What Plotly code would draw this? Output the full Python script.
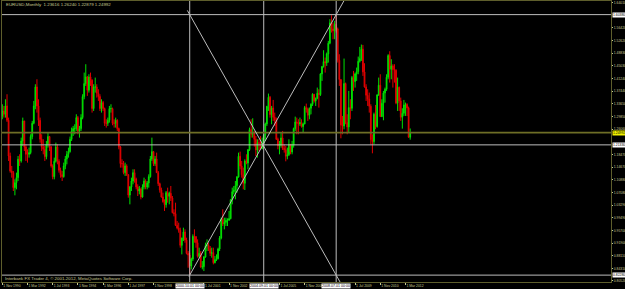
import math
import pandas as pd
import plotly.graph_objects as go

# ---------------- data (EURUSD, monthly bars from Nov 1990) ----------------
symbol = "EURUSD,Monthly"
first_month = "1990-11"
first_open = 1.3000

close = [
    1.3150, 1.3050,
    1.3300, 1.2870, 1.1800, 1.1350, 1.1300, 1.0850, 1.1000, 1.1150, 1.1700, 1.1650, 1.2250, 1.2850,
    1.2070, 1.1850, 1.1850, 1.1900, 1.2380, 1.2780, 1.3300, 1.3870, 1.3300, 1.2870, 1.2300, 1.2070,
    1.2000, 1.1780, 1.2150, 1.2380, 1.2070, 1.1500, 1.1180, 1.1640, 1.2070, 1.1640, 1.1370, 1.1240,
    1.1180, 1.1500, 1.1710, 1.1850, 1.1930, 1.2300, 1.2540, 1.2620, 1.2620, 1.2950, 1.2540, 1.2620,
    1.2950, 1.3580, 1.3970, 1.4170, 1.3770, 1.4170, 1.4070, 1.3220, 1.3870, 1.3870, 1.3680, 1.3580,
    1.3220, 1.3400, 1.3220, 1.2780, 1.2780, 1.2870, 1.3220, 1.3220, 1.2780, 1.2780, 1.2870, 1.2620,
    1.2070, 1.1570, 1.1570, 1.1300, 1.1500, 1.1240, 1.0630, 1.0870, 1.1050, 1.1300, 1.1110, 1.0870,
    1.0750, 1.0810, 1.0570, 1.0870, 1.1050, 1.0870, 1.0990, 1.1180, 1.1710, 1.1930, 1.1570, 1.1710,
    1.1300, 1.0970, 1.0780, 1.0570, 1.0430, 1.0340, 1.0700, 1.0590, 1.0680, 1.0540, 1.0100, 1.0070,
    0.9720, 0.9640, 0.9570, 0.9120, 0.9340, 0.9520, 0.9280, 0.8880, 0.8830, 0.8500, 0.8710, 0.9390,
    0.9380, 0.9200, 0.8790, 0.8880, 0.8470, 0.8480, 0.8770, 0.9110, 0.9120, 0.9020, 0.8880, 0.8900,
    0.8600, 0.8690, 0.8720, 0.9010, 0.9340, 0.9900, 0.9760, 0.9810, 0.9870, 0.9880, 0.9920, 1.0490,
    1.0730, 1.0780, 1.0910, 1.1170, 1.1790, 1.1500, 1.1240, 1.0980, 1.1650, 1.1590, 1.1990, 1.2590,
    1.2450, 1.2480, 1.2300, 1.1980, 1.2200, 1.2180, 1.2020, 1.2180, 1.2420, 1.2760, 1.3290, 1.3560,
    1.3040, 1.3240, 1.2960, 1.2870, 1.2300, 1.2100, 1.2120, 1.2340, 1.2030, 1.1990, 1.1790, 1.1840,
    1.2150, 1.1920, 1.2120, 1.2620, 1.2820, 1.2790, 1.2760, 1.2800, 1.2680, 1.2760, 1.3250, 1.3200,
    1.3020, 1.3230, 1.3350, 1.3650, 1.3450, 1.3530, 1.3680, 1.3640, 1.4260, 1.4480, 1.4630, 1.4590,
    1.4860, 1.5180, 1.5790, 1.5610, 1.5550, 1.5750, 1.5610, 1.4670, 1.4090, 1.2730, 1.2700, 1.3970,
    1.2800, 1.2670, 1.3250, 1.3230, 1.4150, 1.4030, 1.4260, 1.4330, 1.4640, 1.4720, 1.5000, 1.4320,
    1.3870, 1.3620, 1.3510, 1.3290, 1.2290, 1.2230, 1.3050, 1.2680, 1.3630, 1.3920, 1.2980, 1.3380,
    1.3690, 1.3800, 1.4160, 1.4810, 1.4400, 1.4500, 1.4390, 1.4370, 1.3390, 1.3860, 1.3450, 1.2960,
    1.3080, 1.3330, 1.3340, 1.3240, 1.23616, 1.24992,
]

high = [
    1.3350, 1.3300,
    1.3500, 1.3650, 1.2950, 1.1900, 1.1500, 1.1350, 1.1100, 1.1300, 1.1800, 1.1850, 1.2350, 1.2950,
    1.2850, 1.2150, 1.2000, 1.2050, 1.2450, 1.2850, 1.3450, 1.3950, 1.4100, 1.3500, 1.2950, 1.2450,
    1.2300, 1.2100, 1.2250, 1.2500, 1.2400, 1.2100, 1.1550, 1.1750, 1.2200, 1.2150, 1.1700, 1.1450,
    1.1350, 1.1600, 1.1800, 1.1950, 1.2050, 1.2380, 1.2650, 1.2700, 1.2750, 1.3050, 1.3000, 1.2700,
    1.3050, 1.3650, 1.4300, 1.4550, 1.4200, 1.4250, 1.4300, 1.4100, 1.3950, 1.4150, 1.3950, 1.3800,
    1.3650, 1.3500, 1.3450, 1.3250, 1.2900, 1.2950, 1.3300, 1.3350, 1.3250, 1.2900, 1.2950, 1.2900,
    1.2650, 1.2100, 1.1700, 1.1650, 1.1600, 1.1550, 1.1250, 1.0900, 1.1150, 1.1400, 1.1400, 1.1150,
    1.0950, 1.0900, 1.0850, 1.0950, 1.1150, 1.1100, 1.1050, 1.1250, 1.1800, 1.2350, 1.1950, 1.1800,
    1.1900, 1.1350, 1.1000, 1.0850, 1.0700, 1.0500, 1.0750, 1.0850, 1.0730, 1.0900, 1.0600, 1.0200,
    1.0400, 0.9850, 0.9800, 0.9650, 0.9350, 0.9650, 0.9600, 0.9350, 0.8950, 0.8900, 0.8750, 0.9450,
    0.9600, 0.9400, 0.9300, 0.9050, 0.8950, 0.8650, 0.8800, 0.9200, 0.9300, 0.9200, 0.9100, 0.9050,
    0.9050, 0.8800, 0.8850, 0.9050, 0.9400, 0.9950, 1.0200, 0.9950, 0.9950, 0.9930, 1.0150, 1.0500,
    1.0850, 1.0900, 1.1050, 1.1200, 1.1900, 1.1930, 1.1650, 1.1450, 1.1700, 1.1850, 1.2000, 1.2650,
    1.2900, 1.2930, 1.2550, 1.2400, 1.2300, 1.2300, 1.2400, 1.2350, 1.2450, 1.2800, 1.3300, 1.3670,
    1.3600, 1.3300, 1.3480, 1.3100, 1.2950, 1.2350, 1.2250, 1.2500, 1.2550, 1.2150, 1.2100, 1.2050,
    1.2300, 1.2150, 1.2250, 1.2650, 1.2980, 1.2950, 1.2900, 1.2950, 1.2900, 1.2800, 1.3300, 1.3370,
    1.3250, 1.3250, 1.3380, 1.3680, 1.3650, 1.3550, 1.3850, 1.3800, 1.4280, 1.4500, 1.4970, 1.4750,
    1.4900, 1.5250, 1.5900, 1.6020, 1.5800, 1.5850, 1.6038, 1.5650, 1.4850, 1.4100, 1.3000, 1.4720,
    1.4000, 1.3050, 1.3750, 1.3500, 1.4200, 1.4350, 1.4300, 1.4450, 1.4780, 1.5070, 1.5140, 1.5130,
    1.4580, 1.3950, 1.3800, 1.3700, 1.3350, 1.2450, 1.3100, 1.3330, 1.3650, 1.4150, 1.4250, 1.3500,
    1.3750, 1.3850, 1.4250, 1.4850, 1.4940, 1.4700, 1.4550, 1.4550, 1.4400, 1.4150, 1.3880, 1.3550,
    1.3230, 1.3480, 1.3400, 1.3380, 1.3280, 1.26240,
]

low = [
    1.2900, 1.2950,
    1.2950, 1.2820, 1.1650, 1.1300, 1.1150, 1.0750, 1.0620, 1.0800, 1.1050, 1.1500, 1.1600, 1.2100,
    1.1950, 1.1650, 1.1600, 1.1750, 1.1850, 1.2300, 1.2750, 1.3200, 1.3100, 1.2700, 1.2200, 1.1950,
    1.1850, 1.1650, 1.1700, 1.2050, 1.1950, 1.1450, 1.1100, 1.1100, 1.1600, 1.1550, 1.1300, 1.1150,
    1.1050, 1.1150, 1.1400, 1.1550, 1.1750, 1.1900, 1.2250, 1.2400, 1.2450, 1.2550, 1.2450, 1.2350,
    1.2550, 1.2900, 1.3500, 1.3900, 1.3600, 1.3700, 1.3900, 1.3100, 1.3150, 1.3700, 1.3550, 1.3450,
    1.3150, 1.3100, 1.3150, 1.2700, 1.2650, 1.2700, 1.2800, 1.3100, 1.2720, 1.2650, 1.2650, 1.2550,
    1.2000, 1.1450, 1.1450, 1.1250, 1.1200, 1.1200, 1.0550, 1.0350, 1.0750, 1.0950, 1.1000, 1.0800,
    1.0600, 1.0650, 1.0500, 1.0550, 1.0800, 1.0800, 1.0800, 1.0850, 1.1150, 1.1650, 1.1500, 1.1500,
    1.1300, 1.0900, 1.0700, 1.0550, 1.0400, 1.0150, 1.0250, 1.0400, 1.0350, 1.0450, 1.0080, 0.9990,
    0.9700, 0.9600, 0.9500, 0.9050, 0.8850, 0.9250, 0.9200, 0.8850, 0.8450, 0.8228, 0.8400, 0.8650,
    0.9200, 0.9050, 0.8750, 0.8750, 0.8450, 0.8400, 0.8350, 0.8750, 0.8950, 0.8950, 0.8800, 0.8750,
    0.8550, 0.8580, 0.8650, 0.8700, 0.8950, 0.9300, 0.9700, 0.9600, 0.9700, 0.9700, 0.9850, 0.9900,
    1.0350, 1.0650, 1.0500, 1.0700, 1.1150, 1.1400, 1.1150, 1.0800, 1.0780, 1.1550, 1.1400, 1.1950,
    1.2350, 1.2350, 1.2080, 1.1800, 1.1750, 1.1950, 1.2000, 1.2000, 1.2050, 1.2250, 1.2700, 1.3150,
    1.2950, 1.2750, 1.2850, 1.2700, 1.2280, 1.2000, 1.1850, 1.2050, 1.1980, 1.1900, 1.1640, 1.1700,
    1.1800, 1.1850, 1.1850, 1.2050, 1.2550, 1.2450, 1.2450, 1.2700, 1.2650, 1.2500, 1.2750, 1.3100,
    1.2850, 1.2900, 1.3050, 1.3300, 1.3400, 1.3300, 1.3500, 1.3250, 1.3600, 1.4050, 1.4450, 1.4300,
    1.4500, 1.4600, 1.5150, 1.5500, 1.5300, 1.5300, 1.5500, 1.4600, 1.3900, 1.2330, 1.2450, 1.2600,
    1.2750, 1.2450, 1.2500, 1.2900, 1.3150, 1.3750, 1.3850, 1.4050, 1.4250, 1.4600, 1.4650, 1.4200,
    1.3850, 1.3450, 1.3300, 1.3100, 1.2150, 1.1880, 1.2150, 1.2600, 1.2650, 1.3600, 1.2970, 1.3000,
    1.2870, 1.3400, 1.3750, 1.4100, 1.4000, 1.4100, 1.3850, 1.4000, 1.3350, 1.3150, 1.3150, 1.2850,
    1.2620, 1.3000, 1.3000, 1.3000, 1.2350, 1.22879,
]

# monthly FX bars open where the previous one closed
open_ = [first_open] + close[:-1]

# price-scale labels that the terminal shows (those under highlighted boxes are not drawn)
price_tick_vals = [0.8052, 0.8431, 0.8811, 0.9190, 0.9570, 0.9949, 1.0329, 1.0708,
                   1.1088, 1.1467, 1.1847, 1.2606, 1.2985, 1.3365, 1.3744,
                   1.4124, 1.4503, 1.4883, 1.5262, 1.5642, 1.6401]
date_tick_text = ["1 Nov 1990", "1 Mar 1992", "1 Jul 1993", "1 Nov 1994", "1 Mar 1996",
                  "1 Jul 1997", "1 Nov 1998", "1 Jul 2001", "1 Nov 2002",
                  "1 Jul 2005", "1 Nov 2006", "1 Jul 2009",
                  "1 Nov 2010", "1 Mar 2012"]
copyright_text = "Interbank FX Trader 4, \u00a9 2001-2012, MetaQuotes Software Corp."

# ---------------- derived ----------------
months = pd.period_range(first_month, periods=len(close), freq="M")
idx = list(range(len(close)))
month_pos = {m.strftime("%b %Y"): i for i, m in enumerate(months)}
date_tick_idx = [month_pos[t.split(" ", 1)[1]] for t in date_tick_text]

hi = max(high)
lo = min(low)
hi_i = high.index(hi)
lo_i = low.index(lo)
mid = (hi + lo) / 2
mid_i = math.ceil((hi_i + lo_i) / 2)
bid = close[-1]

def mt_date(i):
    return months[i].strftime("%Y.%m.01 00:00")

FG = "#c8c890"
FRAME = "#5e5e2c"
GREY = "#bdbdbd"
FONT = "Liberation Sans"
AX_FS = 3.4
BOX_FS = 3.6
TXT_FS = 4.4

XR = [-0.19, 386.5]
YR = [0.80216, 1.64460]

fig = go.Figure()
fig.add_trace(go.Candlestick(
    x=idx, open=open_, high=high, low=low, close=close,
    increasing=dict(line=dict(color="#00e000", width=1), fillcolor="#00e000"),
    decreasing=dict(line=dict(color="#e00000", width=1), fillcolor="#e00000"),
    whiskerwidth=0, hoverinfo="skip", showlegend=False,
))

shapes = []
for v in (hi, mid, lo):
    shapes.append(dict(type="line", xref="paper", yref="y", x0=0, x1=1, y0=v, y1=v,
                       line=dict(color=GREY, width=1), layer="above"))
for vi in (lo_i, mid_i, hi_i):
    shapes.append(dict(type="line", xref="x", yref="paper", x0=vi, x1=vi, y0=0, y1=1,
                       line=dict(color=GREY, width=1), layer="above"))
shapes.append(dict(type="line", xref="paper", yref="y", x0=0, x1=1, y0=bid, y1=bid,
                   line=dict(color="#6e6e26", width=1.6), layer="above"))

# crossing trend lines between the low and the high, drawn as rays
slope = (hi - lo) / (hi_i - lo_i)
a_end = hi_i + (lo - YR[0]) / slope
b_end = hi_i + (YR[1] - hi) / slope
shapes.append(dict(type="line", xref="x", yref="y", x0=lo_i - 1.5, y0=hi + 1.5 * slope,
                   x1=a_end, y1=YR[0], line=dict(color=GREY, width=1), layer="above"))
shapes.append(dict(type="line", xref="x", yref="y", x0=lo_i - 0.5, y0=lo - 0.5 * slope,
                   x1=b_end, y1=YR[1], line=dict(color=GREY, width=1), layer="above"))

ann = []
header = f"{symbol}  {open_[-1]:.5f} {high[-1]:.5f} {low[-1]:.5f} {close[-1]:.5f}"
ann.append(dict(text=header, xref="paper", yref="paper", x=0.003, y=0.989,
                xanchor="left", yanchor="middle", showarrow=False,
                font=dict(family=FONT, size=TXT_FS, color=FG)))
ann.append(dict(text=copyright_text, xref="paper", yref="paper", x=0.001, y=0.014,
                xanchor="left", yanchor="middle", showarrow=False,
                font=dict(family=FONT, size=TXT_FS, color=FG)))
for v in (hi, mid, lo):
    ann.append(dict(text=f"{v:.5f}", xref="paper", yref="y", x=1, y=v, xanchor="left",
                    yanchor="middle", xshift=1, showarrow=False, bgcolor="#ffffff",
                    borderpad=0, font=dict(family=FONT, size=AX_FS, color="#000000")))
ann.append(dict(text=f"{bid:.5f}", xref="paper", yref="y", x=1, y=bid, xanchor="left",
                yanchor="middle", xshift=1, showarrow=False, bgcolor="#f0f000",
                borderpad=0, font=dict(family=FONT, size=AX_FS, color="#000000")))
for vi in (lo_i, mid_i, hi_i):
    ann.append(dict(text=mt_date(vi), xref="x", yref="paper", x=vi, y=0, xanchor="center",
                    yanchor="top", yshift=-1, showarrow=False, bgcolor="#ffffff",
                    borderpad=0, font=dict(family=FONT, size=BOX_FS, color="#000000")))

fig.update_layout(
    width=625, height=289,
    margin=dict(l=2, r=14, t=1, b=7, autoexpand=False),
    paper_bgcolor="#000000", plot_bgcolor="#000000",
    shapes=shapes, annotations=ann,
    xaxis=dict(range=XR, showgrid=False, zeroline=False, rangeslider=dict(visible=False),
               tickvals=date_tick_idx, ticktext=date_tick_text, tickangle=0,
               ticklabelposition="outside right", automargin=False,
               ticks="outside", ticklen=2, tickcolor=FG, tickwidth=1,
               tickfont=dict(family=FONT, size=AX_FS, color=FG),
               showline=True, linecolor=FRAME, linewidth=1, mirror=True),
    yaxis=dict(range=YR, side="right", showgrid=False, zeroline=False, automargin=False,
               tickvals=price_tick_vals, ticktext=[f"{v:.5f}" for v in price_tick_vals],
               ticks="outside", ticklen=1, tickcolor=FG, tickwidth=1,
               tickfont=dict(family=FONT, size=AX_FS, color=FG),
               showline=True, linecolor=FRAME, linewidth=1, mirror=True),
    hovermode=False,
)

fig.write_html("out.html")
